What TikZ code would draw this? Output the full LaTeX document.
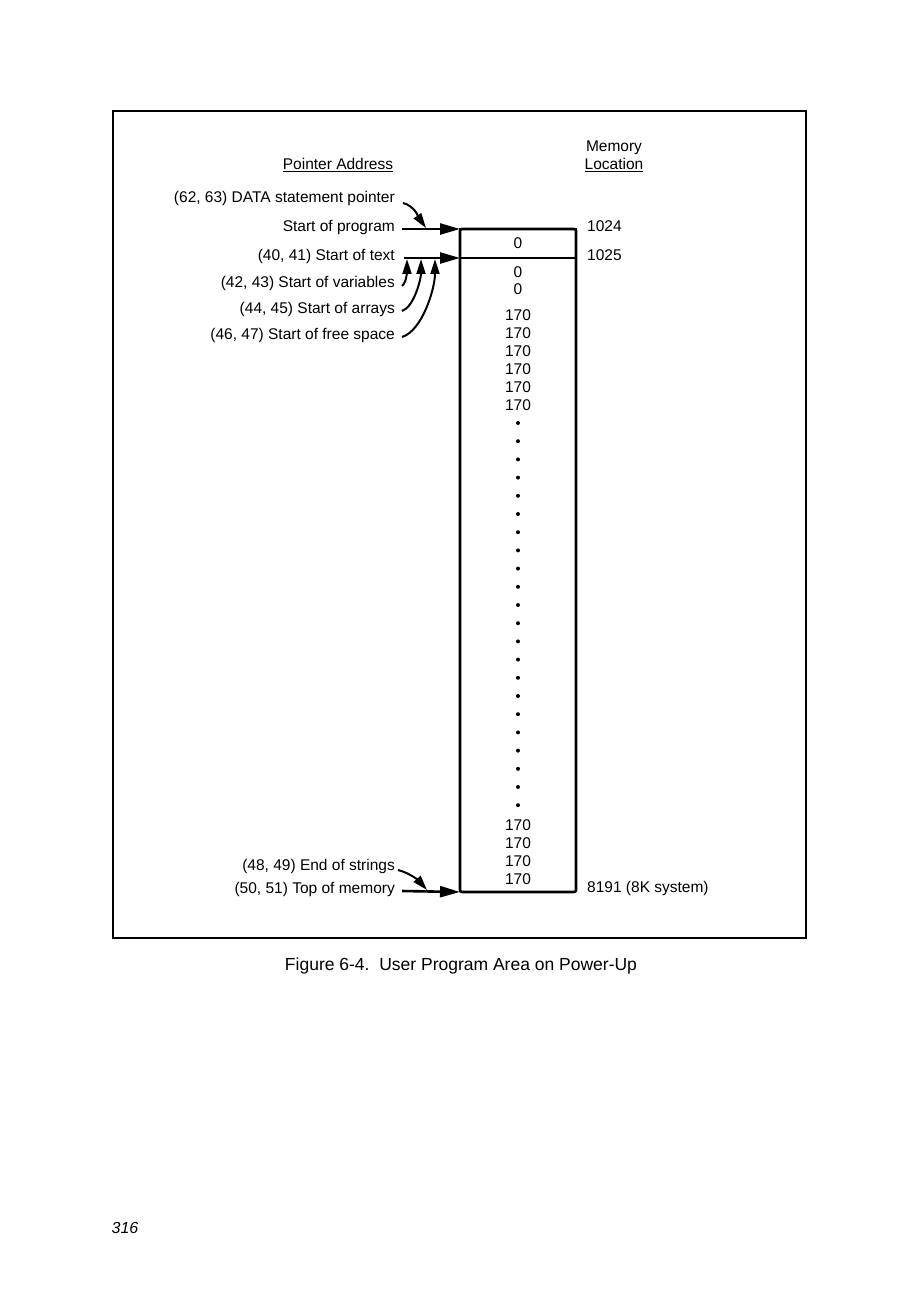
\documentclass[tikz,border=0pt]{standalone}
\usepackage{fontspec}
\setmainfont{Liberation Sans}
\usetikzlibrary{arrows.meta,positioning,calc}

\begin{document}
\begin{tikzpicture}[x=1pt,y=-1pt,font=\fontsize{15.5}{18}\selectfont,
    ptrLabel/.style={anchor=mid east,inner sep=0pt},
    locLabel/.style={anchor=mid west,inner sep=0pt},
    memVal/.style={inner sep=0pt},
    dotMark/.style={circle,fill,inner sep=0pt,minimum size=4pt},
    memBox/.style={draw,line width=2.6pt,outer sep=0pt,inner sep=0pt,anchor=north west},
    shaftTip/.style={line width=2.6pt,-{Triangle[length=20pt,width=11pt]}},
    curveTip/.style={line width=2pt,-{Triangle[length=15pt,width=9pt]}}]
  \useasboundingbox (0,0) rectangle (919,1313);
  \draw[line width=1.6pt] (113,111) rectangle (806,938);

  \node[anchor=base,inner sep=0pt] (ptrHead) at (338,170) {\underline{Pointer Address}};
  \node[anchor=base,inner sep=0pt] (memHead) at (614,152) {Memory};
  \node[anchor=base,inner sep=0pt] (locHead) at (614,170) {\underline{Location}};

  % memory column
  \node[memBox,rounded corners=2pt,minimum width=116pt,minimum height=663pt] (mem) at (460,229) {};
  \node[memBox,minimum width=116pt,minimum height=29pt] (cell0) at (460,229) {0};
  \node[memVal] (z1) at (518,272) {0};
  \node[memVal] (z2) at (518,289) {0};
  \foreach \y [count=\i] in {315,333,351,369,387,405}
    \node[memVal] (top\i) at (518,\y) {170};
  \foreach \i in {1,...,22}
    \node[dotMark] (d\i) at (518,{423+18.2*(\i-1)}) {};
  \foreach \y [count=\i] in {825,843,861,879}
    \node[memVal] (bot\i) at (518,\y) {170};

  \node[locLabel] (loc1024) at (587,229) {1024};
  \node[locLabel] (loc1025) at (587,258) {1025};
  \node[locLabel] (loc8191) at (587,890) {8191 (8K system)};

  % pointers
  \node[ptrLabel] (data) at (395,200) {(62, 63) DATA statement pointer};
  \node[ptrLabel] (prog) at (395,229) {Start of program};
  \node[ptrLabel] (text) at (395,258) {(40, 41) Start of text};
  \node[ptrLabel] (vars) at (395,285) {(42, 43) Start of variables};
  \node[ptrLabel] (arrs) at (395,311) {(44, 45) Start of arrays};
  \node[ptrLabel] (free) at (395,337) {(46, 47) Start of free space};
  \node[ptrLabel] (strs) at (395,868) {(48, 49) End of strings};
  \node[ptrLabel] (topm) at (395,891) {(50, 51) Top of memory};

  \coordinate (dp) at (426,228);
  \coordinate (t1) at (407,259);
  \coordinate (t2) at (421,259);
  \coordinate (t3) at (435,259);
  \coordinate (sp) at (427,890);

  \draw[shaftTip] ([xshift=7pt]prog.mid east) -- (mem.north west);
  \draw[shaftTip] ([xshift=9pt]text.mid east) -- (cell0.south west);
  \draw[shaftTip] ([xshift=7pt]topm.mid east) -- (mem.south west);
  \draw[curveTip] ([xshift=8pt,yshift=-3pt]data.mid east) .. controls +(12,3) and +(-7,-10) .. (dp);
  \draw[curveTip] ([xshift=7pt,yshift=-1pt]vars.mid east) .. controls +(5,-4) and +(0,10) .. (t1);
  \draw[curveTip] ([xshift=7pt]arrs.mid east) .. controls +(12,-4) and +(0,20) .. (t2);
  \draw[curveTip] ([xshift=7pt]free.mid east) .. controls +(20,-6) and +(0,30) .. (t3);
  \draw[curveTip] ([xshift=3pt,yshift=-2pt]strs.mid east) .. controls +(12,3) and +(-8,-9) .. (sp);

  \node[anchor=center,inner sep=0pt,font=\fontsize{17.5}{20}\selectfont] (caption) at (461,966)
    {Figure 6-4.\ \ User Program Area on Power-Up};
  \node[anchor=center,inner sep=0pt,font=\fontsize{16}{19}\selectfont\itshape] (pageNo) at (125,1228) {316};
\end{tikzpicture}
\end{document}
